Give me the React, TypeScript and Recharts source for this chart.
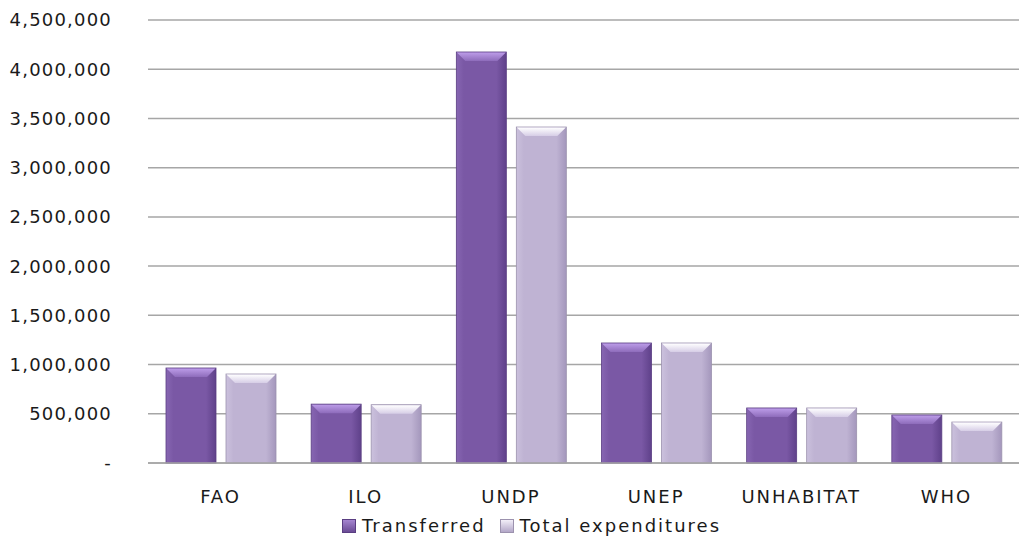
import React from "react";
import { BarChart, Bar, XAxis, YAxis, CartesianGrid } from "recharts";

const categories = ["FAO", "ILO", "UNDP", "UNEP", "UNHABITAT", "WHO"];
const transferred = [965000, 598000, 4175000, 1219000, 559000, 488000];
const totalExpenditures = [904000, 592000, 3413000, 1219000, 559000, 416000];
const yTicks = [0, 500000, 1000000, 1500000, 2000000, 2500000, 3000000, 3500000, 4000000, 4500000];

const data = categories.map((c, i) => ({
  name: c,
  transferred: transferred[i],
  total: totalExpenditures[i],
}));

const FONT = "'DejaVu Sans', Verdana, sans-serif";

const palettes: Record<string, any> = {
  t: { id: "t", left: "#8766B2", mid: "#7A58A5", right: "#5F418A", top1: "#BC9CE8", top2: "#8E6CBB", stroke: "#5A3E82" },
  e: { id: "e", left: "#CBC1DD", mid: "#BFB3D3", right: "#A497BC", top1: "#FFFFFF", top2: "#D6CDE6", stroke: "#9C92AE" },
};

const makeShape = (key: string) => (props: any) => {
  const { x, y, width, height } = props;
  if (!height || height <= 0) return null;
  const p = palettes[key];
  const bev = Math.min(9, height / 2);
  const side = 9;
  return (
    <g>
      <rect x={x} y={y} width={width} height={height} fill={`url(#body-${p.id})`} stroke={p.stroke} strokeWidth={0.8} />
      <polygon
        points={`${x + 0.5},${y + 0.5} ${x + width - 0.5},${y + 0.5} ${x + width - side},${y + bev} ${x + side},${y + bev}`}
        fill={`url(#top-${p.id})`}
      />
    </g>
  );
};

const defs = (
  <defs>
    {Object.values(palettes).map((p: any) => (
      <React.Fragment key={p.id}>
        <linearGradient id={`body-${p.id}`} x1="0" y1="0" x2="1" y2="0">
          <stop offset="0%" stopColor={p.left} />
          <stop offset="15%" stopColor={p.mid} />
          <stop offset="80%" stopColor={p.mid} />
          <stop offset="100%" stopColor={p.right} />
        </linearGradient>
        <linearGradient id={`top-${p.id}`} x1="0" y1="0" x2="0" y2="1">
          <stop offset="0%" stopColor={p.top1} />
          <stop offset="100%" stopColor={p.top2} />
        </linearGradient>
      </React.Fragment>
    ))}
  </defs>
);

const fmt = (v: number) => (v === 0 ? "-" : v.toLocaleString("en-US"));

const legendItems = [
  { label: "Transferred", bg: "linear-gradient(#A585D0, #6A4B95)", border: "#5A3E82" },
  { label: "Total expenditures", bg: "linear-gradient(#F2EEF8, #B3A7C8)", border: "#9C92AE" },
];

export default function App() {
  return (
    <div style={{ width: 1019, height: 541, position: "relative" }}>
      <style>{`body{margin:0;background:#fff}`}</style>
      <BarChart
        width={1019}
        height={541}
        data={data}
        margin={{ top: 20, right: 0, bottom: 48, left: 0 }}
        barSize={50}
        barGap={10}
      >
        {defs}
        <CartesianGrid vertical={false} stroke="#A6A6A6" strokeWidth={1.5} />
        <XAxis
          dataKey="name"
          height={30}
          axisLine={{ stroke: "#A6A6A6", strokeWidth: 1.5 }}
          tickLine={false}
          tickSize={0}
          tickMargin={27}
          tick={{ fontFamily: FONT, fontSize: 18, fill: "#1a1a1a", letterSpacing: 2 }}
        />
        <YAxis
          width={148}
          domain={[0, 4500000]}
          ticks={yTicks}
          interval={0}
          axisLine={false}
          tickLine={false}
          tickFormatter={fmt}
          tickMargin={30}
          tick={{ fontFamily: FONT, fontSize: 18, fill: "#1a1a1a", letterSpacing: 1.2 }}
        />
        <Bar dataKey="transferred" name="Transferred" shape={makeShape("t")} isAnimationActive={false} />
        <Bar dataKey="total" name="Total expenditures" shape={makeShape("e")} isAnimationActive={false} />
      </BarChart>
      <div
        style={{
          position: "absolute",
          left: 342,
          top: 515,
          display: "flex",
          alignItems: "center",
          fontFamily: FONT,
          fontSize: 18,
          letterSpacing: 2,
          color: "#1a1a1a",
          whiteSpace: "nowrap",
        }}
      >
        {legendItems.map((it, i) => (
          <React.Fragment key={it.label}>
            <span
              style={{
                display: "inline-block",
                width: 12,
                height: 12,
                background: it.bg,
                border: `1px solid ${it.border}`,
                marginRight: 6,
                marginLeft: i === 0 ? 0 : 14,
              }}
            />
            <span>{it.label}</span>
          </React.Fragment>
        ))}
      </div>
    </div>
  );
}
